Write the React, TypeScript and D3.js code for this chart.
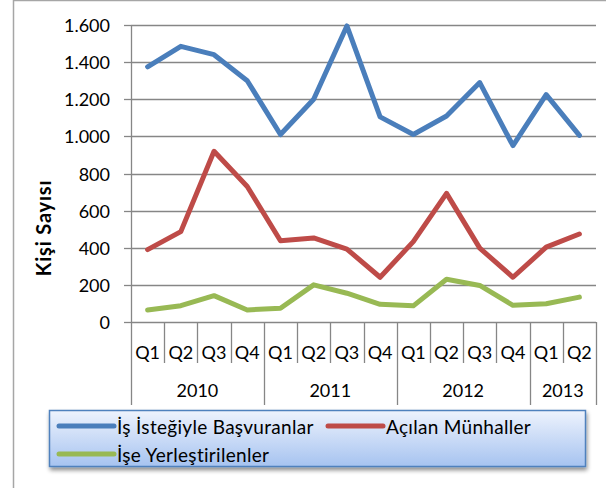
import React from "react";
import * as d3 from "d3";

const quarters = ["Q1","Q2","Q3","Q4","Q1","Q2","Q3","Q4","Q1","Q2","Q3","Q4","Q1","Q2"];
const years = ["2010","2011","2012","2013"];
const yearSpans = [4, 4, 4, 2];
const applicants = [1375,1485,1440,1300,1010,1200,1595,1105,1010,1110,1290,950,1225,1005];
const vacancies = [390,487,920,730,438,453,393,241,433,693,398,241,403,474];
const placed = [65,88,142,65,74,200,155,95,87,230,197,90,98,134];
const yTicks = [0,200,400,600,800,1000,1200,1400,1600];
const seriesNames = ["İş İsteğiyle Başvuranlar","Açılan Münhaller","İşe Yerleştirilenler"];
const seriesColors = ["#4a7ebb","#be4b48","#98b954"];

const fmt = (v: number) => d3.format(",")(v).replace(/,/g, ".");

export default function App() {
  const W = 606, H = 488;
  const left = 131, right = 596, top = 25, bottom = 322;
  const keys = quarters.map((_, i) => String(i));
  const x = d3.scaleBand().domain(keys).range([left, right]).padding(0);
  const y = d3.scaleLinear().domain([0, 1600]).range([bottom, top]);
  const line = d3.line<number>().x((_, i) => (x(String(i)) as number) + x.bandwidth() / 2).y(d => y(d));
  const series = [applicants, vacancies, placed];
  const font = "Lato, 'Open Sans', sans-serif";
  const grid = "#868686";

  let acc = 0;
  const yearPos = yearSpans.map((s, i) => {
    const x0 = x(String(acc)) as number;
    const x1 = acc + s < quarters.length ? (x(String(acc + s)) as number) : right;
    acc += s;
    return { label: years[i], x0, x1 };
  });

  return (
    <svg width={W} height={H} style={{ position: "absolute", left: 0, top: 0 }} fontFamily={font}>
      <defs>
        <linearGradient id="lg" x1="0" y1="0" x2="0" y2="1">
          <stop offset="0" stopColor="#eef3fd" />
          <stop offset="1" stopColor="#a6c3f0" />
        </linearGradient>
        <filter id="sh" x="-5%" y="-20%" width="110%" height="150%">
          <feGaussianBlur in="SourceAlpha" stdDeviation="2" />
          <feOffset dx="1" dy="3" result="b" />
          <feComponentTransfer><feFuncA type="linear" slope="0.45" /></feComponentTransfer>
          <feMerge><feMergeNode /><feMergeNode in="SourceGraphic" /></feMerge>
        </filter>
      </defs>
      <rect x={0} y={0} width={W} height={H} fill="#fff" />
      <rect x={13.5} y={0.5} width={800} height={800} fill="none" stroke="#a6a6a6" strokeWidth={1.5} />
      {yTicks.map(t => (
        <g key={t}>
          <line x1={left} x2={right} y1={Math.round(y(t)) + 0.5} y2={Math.round(y(t)) + 0.5} stroke={grid} strokeWidth={1.3} />
          <line x1={left - 7} x2={left} y1={Math.round(y(t)) + 0.5} y2={Math.round(y(t)) + 0.5} stroke={grid} strokeWidth={1.3} />
          <text x={110} y={y(t)} dominantBaseline="central" textAnchor="end" fontSize={18} fill="#000">{fmt(t)}</text>
        </g>
      ))}
      <line x1={left + 0.5} x2={left + 0.5} y1={top} y2={405} stroke={grid} strokeWidth={1.3} />
      {quarters.map((_, i) => {
        if (i === 0) return null;
        const xx = Math.round(x(String(i)) as number) + 0.5;
        const isYear = yearPos.some(p => Math.abs(p.x0 - (x(String(i)) as number)) < 0.1);
        return <line key={i} x1={xx} x2={xx} y1={bottom} y2={isYear ? 405 : 363} stroke={grid} strokeWidth={1.3} />;
      })}
      <line x1={right + 0.5} x2={right + 0.5} y1={bottom} y2={405} stroke={grid} strokeWidth={1.3} />
      {quarters.map((q, i) => (
        <text key={i} x={(x(String(i)) as number) + x.bandwidth() / 2} y={352} textAnchor="middle" dominantBaseline="central" fontSize={18}>{q}</text>
      ))}
      {yearPos.map(p => (
        <text key={p.label} x={(p.x0 + p.x1) / 2} y={390} textAnchor="middle" dominantBaseline="central" fontSize={18}>{p.label}</text>
      ))}
      <text transform={`translate(43,228) rotate(-90)`} textAnchor="middle" dominantBaseline="central" fontSize={20} fontWeight="bold" letterSpacing={0.8}>Kişi Sayısı</text>
      {series.map((s, k) => (
        <path key={k} d={line(s) as string} fill="none" stroke={seriesColors[k]} strokeWidth={5} strokeLinejoin="round" strokeLinecap="round" />
      ))}
      <rect x={49.5} y={410.5} width={536} height={56} fill="url(#lg)" stroke="#4f81bd" strokeWidth={1.5} filter="url(#sh)" />
      {[
        { k: 0, lx: 59, ty: 426 },
        { k: 1, lx: 328, ty: 426 },
        { k: 2, lx: 59, ty: 454 },
      ].map(({ k, lx, ty }) => (
        <g key={k}>
          <line x1={lx} x2={lx + 55} y1={ty} y2={ty} stroke={seriesColors[k]} strokeWidth={5} strokeLinecap="round" />
          <text x={lx + 58} y={ty} dominantBaseline="central" fontSize={19} letterSpacing={0.3}>{seriesNames[k]}</text>
        </g>
      ))}
    </svg>
  );
}
